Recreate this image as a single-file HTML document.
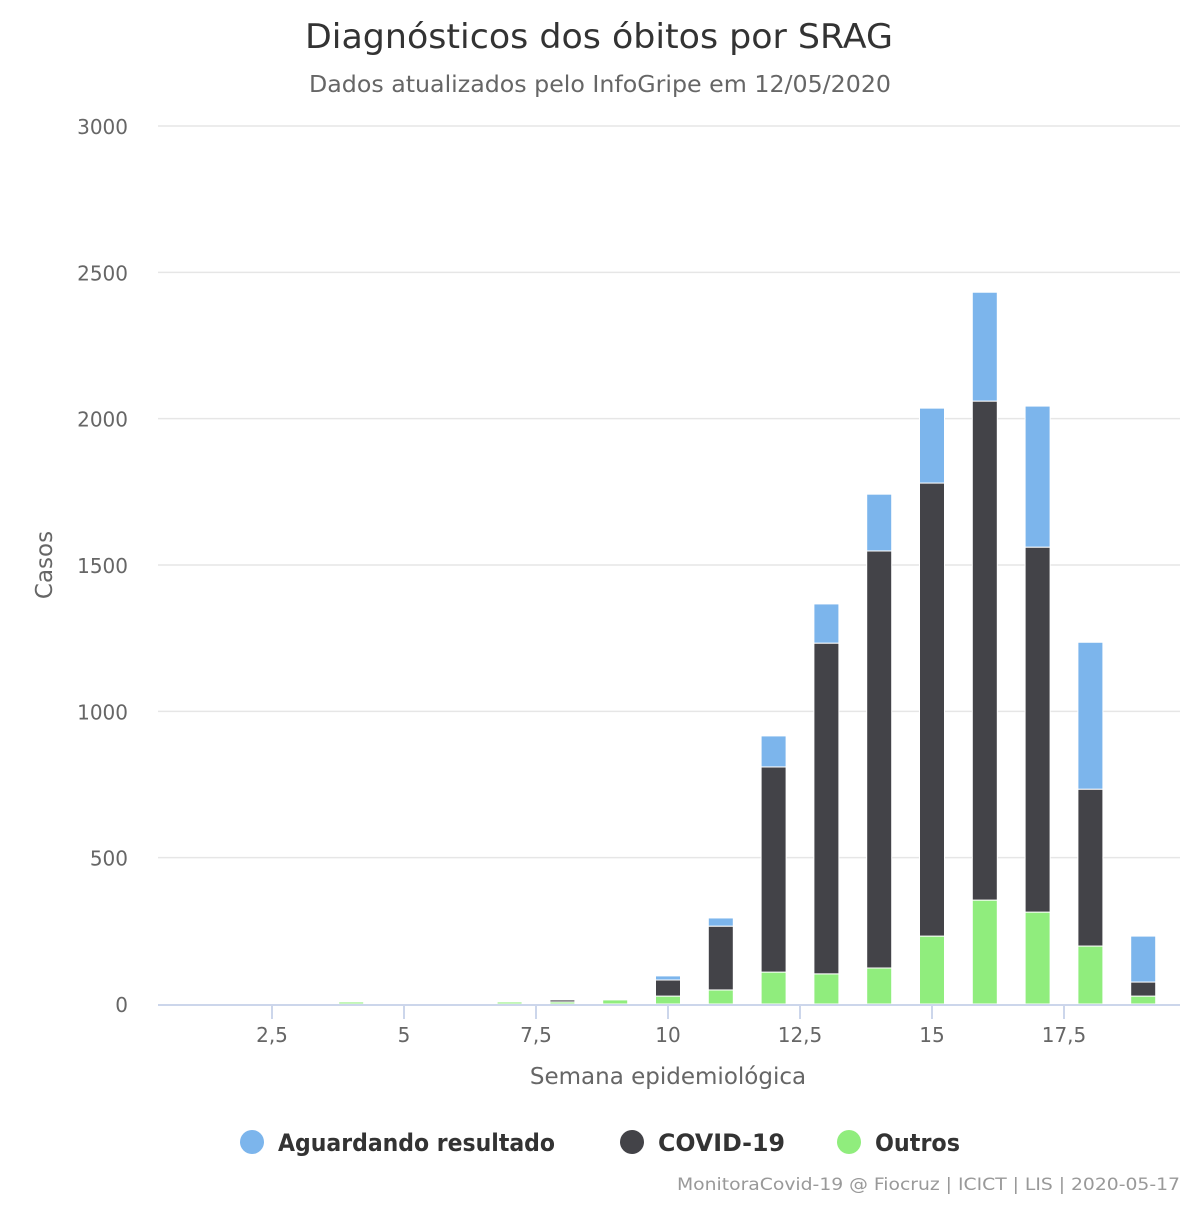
<!DOCTYPE html>
<html><head><meta charset="utf-8"><style>
body{margin:0;background:#fff;}
svg text{font-family:"DejaVu Sans","Liberation Sans",sans-serif;}
</style></head><body>
<svg id="chart" width="1200" height="1200" xmlns="http://www.w3.org/2000/svg">
<rect width="1200" height="1200" fill="#fff"/>
<text x="305" y="48" textLength="588" lengthAdjust="spacingAndGlyphs" font-size="34" fill="#333">Diagnósticos dos óbitos por SRAG</text>
<text x="309" y="92" textLength="582" lengthAdjust="spacingAndGlyphs" font-size="23" fill="#666">Dados atualizados pelo InfoGripe em 12/05/2020</text>
<g id="grid"></g><g id="bars"></g><g id="axes"></g>
<text transform="translate(52,565) rotate(-90)" text-anchor="middle" font-size="23" fill="#666">Casos</text>
<text x="668" y="1084" text-anchor="middle" font-size="23" fill="#666">Semana epidemiológica</text>
<g>
<g><circle cx="252" cy="1142" r="12" fill="#7cb5ec"/><text x="278" y="1151" textLength="277" lengthAdjust="spacingAndGlyphs" font-size="24" font-weight="bold" fill="#333">Aguardando resultado</text></g>
<g><circle cx="632" cy="1142" r="12" fill="#434348"/><text x="658" y="1151" textLength="127" lengthAdjust="spacingAndGlyphs" font-size="24" font-weight="bold" fill="#333">COVID-19</text></g>
<g><circle cx="849" cy="1142" r="12" fill="#90ed7d"/><text x="875" y="1151" textLength="85" lengthAdjust="spacingAndGlyphs" font-size="24" font-weight="bold" fill="#333">Outros</text></g>
</g>
<text x="677" y="1190" textLength="503" lengthAdjust="spacingAndGlyphs" font-size="17" fill="#999">MonitoraCovid-19 @ Fiocruz | ICICT | LIS | 2020-05-17</text>
</svg>
<script>
const weeks=[4,7,8,9,10,11,12,13,14,15,16,17,18,19];
const outros=[7,7,7,14,27,48,109,103,123,232,355,314,198,27];
const covid=[0,0,7,0,55,218,701,1130,1425,1548,1705,1247,536,48];
const aguardando=[0,0,0,0,14,28,106,134,194,256,372,482,502,157];
const yTicks=[0,500,1000,1500,2000,2500,3000];
const xTicks=[2.5,5,7.5,10,12.5,15,17.5];
const xTickLabels=["2,5","5","7,5","10","12,5","15","17,5"];
const NS="http://www.w3.org/2000/svg";
const X=v=>668+(v-10)*52.8, Y=v=>1004-v*878/3000;
function mk(t,a,p){const e=document.createElementNS(NS,t);for(const k in a)e.setAttribute(k,a[k]);p.appendChild(e);return e;}
const g=document.getElementById('grid'),b=document.getElementById('bars'),ax=document.getElementById('axes');
yTicks.forEach(v=>{
 if(v>0){const l=mk('line',{x1:158,x2:1180,y1:Y(v),y2:Y(v),stroke:'#e6e6e6','stroke-width':1.5},g);
 
 }
 const t=mk('text',{x:128,y:Y(v)+8,'text-anchor':'end','font-size':20,fill:'#666'},ax);t.textContent=v;
 
 
});
const base=mk('line',{x1:158,x2:1180,y1:1005,y2:1005,stroke:'#ccd6eb','stroke-width':2},ax);


xTicks.forEach((v,i)=>{
 mk('line',{x1:X(v),x2:X(v),y1:1005,y2:1019,stroke:'#ccd6eb','stroke-width':2},ax);
 const t=mk('text',{x:X(v),y:1042,'text-anchor':'middle','font-size':20,fill:'#666'},ax);t.textContent=xTickLabels[i];
 
 
});
const series=[[outros,'#90ed7d','outros'],[covid,'#434348','covid'],[aguardando,'#7cb5ec','aguardando']];
weeks.forEach((w,i)=>{
 let acc=0;
 series.forEach(([arr,c,n])=>{
  const v=arr[i]; if(v<=0) return;
  const y0=Y(acc),y1=Y(acc+v); acc+=v;
  const r=mk('rect',{x:X(w)-12.5,y:y1,width:25,height:Math.max(y0-y1,1),fill:c,stroke:'#fff','stroke-width':1},b);
  
  
 });
});
</script>
</body></html>
